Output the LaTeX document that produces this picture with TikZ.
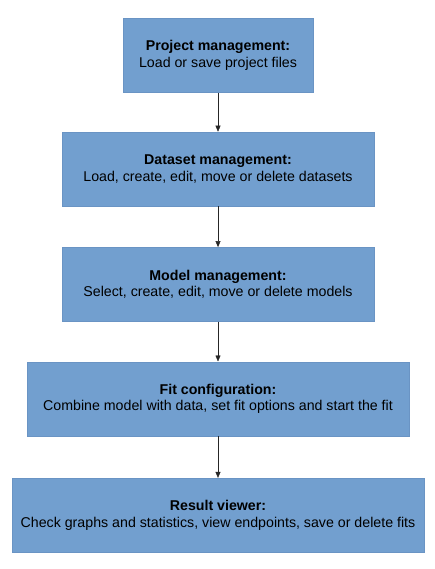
\documentclass[tikz,border=0pt]{standalone}
\usepackage{fontspec}
\setmainfont{Liberation Sans}
\usetikzlibrary{positioning,arrows.meta}
\definecolor{boxblue}{HTML}{729FCF}
\definecolor{boxedge}{HTML}{6A94C4}
\tikzset{stage/.style={
        draw=boxedge, fill=boxblue, minimum height=74pt,
        align=center, font=\fontsize{14.2}{16.5}\selectfont, inner sep=0pt
    },
    flow/.style={-{Triangle[length=6pt,width=5pt]}, color=black!85, thin}
}

\begin{document}
\begin{tikzpicture}[x=1pt,y=-1pt]
        \useasboundingbox (0,0) rectangle (434,569);
        \node[stage, minimum width=190pt] (project) at (218,55.5)
            {\textbf{Project management:}\\Load or save project files};
        \node[stage, minimum width=312pt, below=39pt of project] (dataset)
            {\textbf{Dataset management:}\\Load, create, edit, move or delete datasets};
        \node[stage, minimum width=312pt, below=41pt of dataset] (model)
            {\textbf{Model management:}\\Select, create, edit, move or delete models};
        \node[stage, minimum width=382pt, below=40pt of model] (fit)
            {\textbf{Fit configuration:}\\Combine model with data, set fit options and start the fit};
        \node[stage, minimum width=412pt, below=42pt of fit] (result)
            {\textbf{Result viewer:}\\Check graphs and statistics, view endpoints, save or delete fits};
        \draw[flow] (project) -- (dataset);
        \draw[flow] (dataset) -- (model);
        \draw[flow] (model) -- (fit);
        \draw[flow] (fit) -- (result);
    \end{tikzpicture}
\end{document}
